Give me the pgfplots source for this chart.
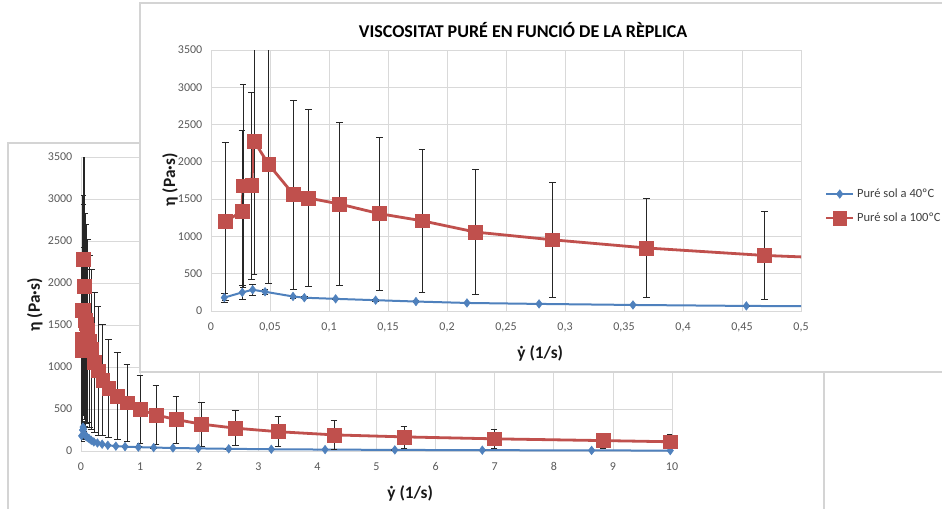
\documentclass[border=0pt]{standalone}
\usepackage{fontspec}
\setmainfont{Carlito}
\usepackage{pgfplots}
\pgfplotsset{compat=1.18}
\usepackage{pgfplotstable}

\definecolor{exblue}{HTML}{4F81BD}
\definecolor{exred}{HTML}{C0504D}
\definecolor{gridgray}{HTML}{D9D9D9}
\definecolor{ticktext}{HTML}{595959}
\definecolor{legtext}{HTML}{404040}
\definecolor{framegray}{HTML}{D4D4D4}

% shear rate (1/s), viscosity (Pa s), standard deviation
\pgfplotstableread{
x y e
0.0121 1200 1060
0.0262 1335 1085
0.0272 1680 1364
0.0345 1682 1253
0.0364 2280 1790
0.0489 1965 1590
0.0700 1560 1264
0.0825 1515 1184
0.1088 1435 1089
0.1427 1305 1029
0.1788 1210 957
0.2243 1058 835
0.2893 955 768
0.3692 845 661
0.4690 745 586
0.614 655 520
0.778 575 461
0.998 496 409
1.27 429 348
1.607 375 281
2.035 320 259
2.61 272 206
3.333 230 178
4.28 192 171
5.465 168 131
6.99 145 112
8.83 124 91
9.97 110 83
}\hundred

\pgfplotstableread{
x y e
0.0113 180 60
0.0265 250 95
0.0353 285 70
0.0458 258 30
0.0695 195 20
0.0791 178 15
0.1056 163 12
0.1395 145 10
0.1737 127 10
0.2169 108 8
0.278 95 8
0.3576 81 6
0.4537 68 6
0.59 58 5
0.745 52 5
0.97 46 4
1.23 41 4
1.556 36 4
1.985 31 3
2.5 26 3
3.22 21 3
4.13 17 2
5.31 13 2
6.79 10 2
8.64 7 1
9.97 5 1
}\forty

\pgfplotsset{
  excel/.style={
    scale only axis,
    axis line style={draw=gridgray},
    grid=major,
    major grid style={draw=gridgray, line width=0.6pt},
    tick style={draw=none},
    major tick length=0pt,
    ymin=0, ymax=3500,
    ytick={0,500,...,3500},
    scaled ticks=false,
    /pgf/number format/assume math mode=true,
    /pgf/number format/1000 sep={},
    ticklabel style={font=\fontsize{9}{10}\selectfont, text=ticktext},
    yticklabel style={xshift=-3pt},
    xticklabel style={yshift=-5pt},
    label style={font=\bfseries\fontsize{13}{15}\selectfont, text=black!90},
    error bars/y dir=both,
    error bars/y explicit,
    error bars/error mark=-,
    error bars/error bar style={black!85, line width=0.55pt},
    error bars/error mark options={rotate=90, draw=black!85, mark size=2.5pt, line width=0.55pt},
  },
  redseries/.style={
    exred, line width=2.1pt, mark=square*,
    mark options={fill=exred, draw=exred, line width=0.4pt, mark size=5.2pt},
  },
  blueseries/.style={
    exblue, line width=1.5pt, mark=diamond*,
    mark options={fill=exblue, draw=exblue, line width=0.4pt, mark size=3.2pt},
  },
}

\begin{document}
\begin{tikzpicture}[x=1pt,y=1pt]
\path[use as bounding box] (0,0) rectangle (706.5,381);
\clip (0,0) rectangle (706.5,381);

% full range chart (behind)
\fill[white] (6,-5) rectangle (618,273.75);
\draw[framegray, line width=0.8pt] (6,-5) -- (6,273.75) -- (618,273.75) -- (618,-5);
\begin{axis}[excel,
  at={(60.75pt,42.75pt)}, anchor=south west,
  width=443.25pt, height=220.5pt,
  xmin=0, xmax=10, xtick={0,1,...,10},
  xlabel={ẏ (1/s)},
  ylabel={η (Pa·s)},
  xlabel style={at={(axis description cs:0.557,-0.146)}, anchor=center},
  ylabel style={at={(axis description cs:-0.078,0.497)}, anchor=center},
]
\addplot+[blueseries] table[x=x, y=y, y error=e] {\forty};
\addplot+[redseries] table[x=x, y=y, y error=e] {\hundred};
\end{axis}

% zoom on the low shear rates (in front)
\fill[white] (105,102) rectangle (710,378.75);
\draw[framegray, line width=0.8pt] (710,102) -- (105,102) -- (105,378.75) -- (710,378.75);
\begin{axis}[excel,
  at={(158.25pt,147.75pt)}, anchor=south west,
  width=442.5pt, height=195.75pt,
  xmin=0, xmax=0.5,
  xtick={0,0.05,0.1,0.15,0.2,0.25,0.3,0.35,0.4,0.45,0.5},
  xticklabels={0,{0,05},{0,1},{0,15},{0,2},{0,25},{0,3},{0,35},{0,4},{0,45},{0,5}},
  title={VISCOSITAT PURÉ EN FUNCIÓ DE LA RÈPLICA},
  every axis title shift=0pt,
  title style={at={(axis description cs:0.529,1.077)}, anchor=center,
    font=\bfseries\fontsize{13.5}{15}\selectfont, text=black},
  xlabel={ẏ (1/s)},
  ylabel={η (Pa·s)},
  xlabel style={at={(axis description cs:0.558,-0.161)}, anchor=center},
  ylabel style={at={(axis description cs:-0.0695,0.502)}, anchor=center},
  legend style={at={(axis description cs:1.038,0.485)}, anchor=north west,
    draw=none, fill=none, font=\fontsize{9.4}{11}\selectfont, text=legtext,
    row sep=6pt, inner sep=1pt},
  legend cell align=left,
  legend image code/.code={%
    \draw[mark repeat=2, mark phase=2] plot coordinates {(0pt,0pt) (10pt,0pt) (20pt,0pt)};},
]
\addplot+[blueseries] table[x=x, y=y, y error=e] {\forty};
\addlegendentry{Puré sol a 40ºC}
\addplot+[redseries] table[x=x, y=y, y error=e] {\hundred};
\addlegendentry{Puré sol a 100ºC}
\end{axis}
\end{tikzpicture}
\end{document}
